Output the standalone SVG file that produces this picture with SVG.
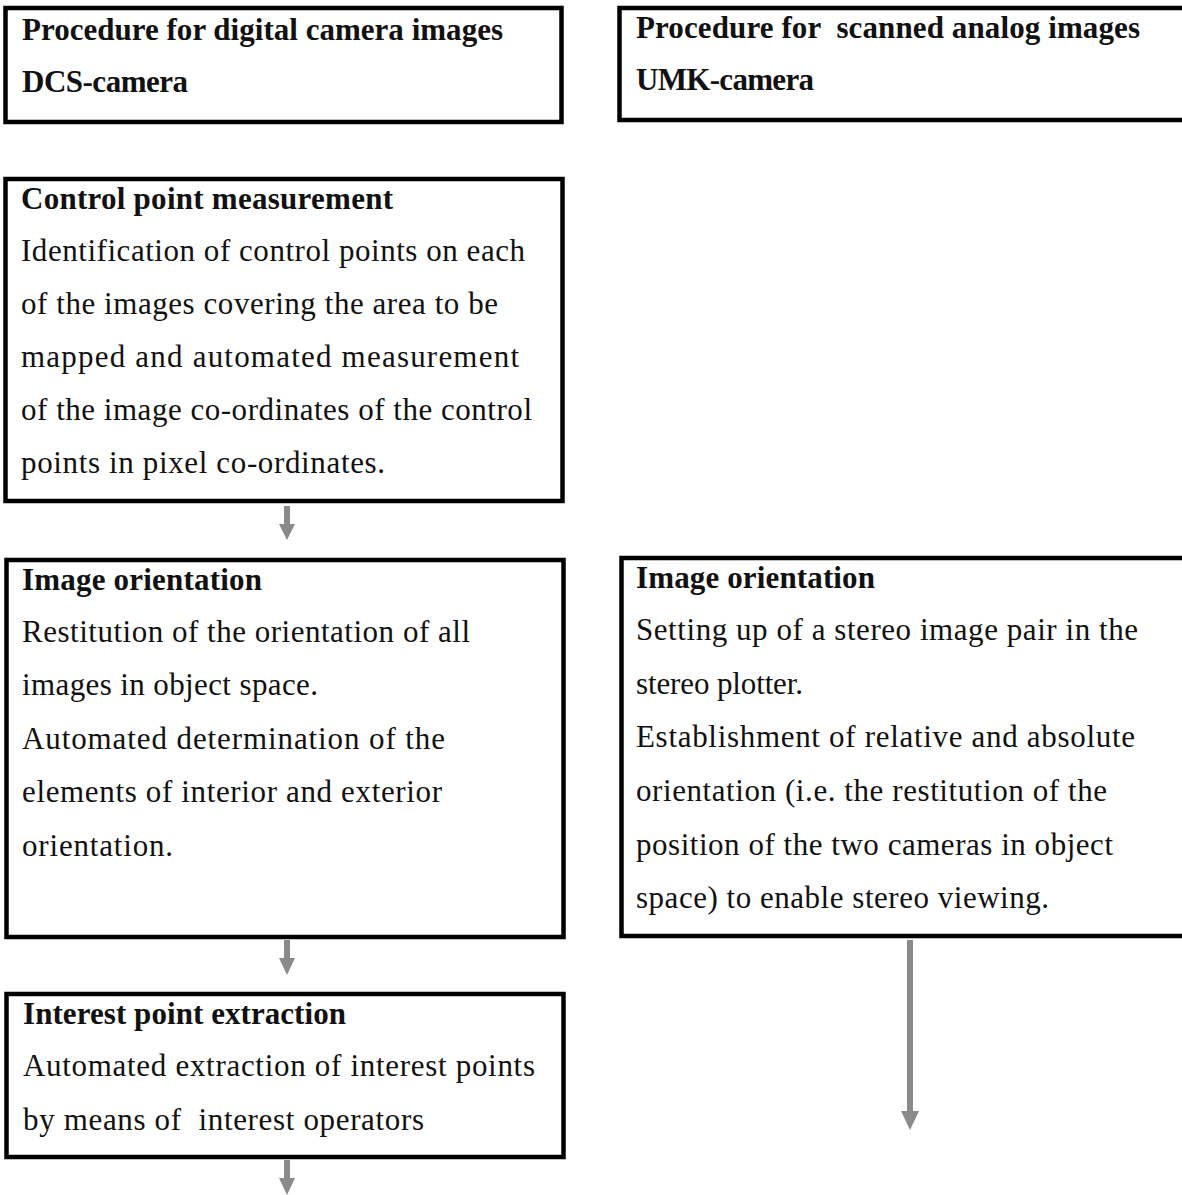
<svg xmlns="http://www.w3.org/2000/svg" width="1182" height="1195" viewBox="0 0 1182 1195">
<style>
.box{fill:#fff;stroke:#000;stroke-width:4.5}
text{font-family:"Liberation Serif","DejaVu Serif",serif;font-size:31px;fill:#111;white-space:pre}
.b{font-weight:bold}
.shaft{stroke:#8a8a8a;fill:none}
.head{fill:#8a8a8a}
</style>
<rect width="1182" height="1195" fill="#fff"/>
<g id="connectors">
<line class="shaft" x1="287" y1="506" x2="287" y2="526" stroke-width="6"/>
<polygon class="head" points="279,524 295,524 287,540"/>
<line class="shaft" x1="287" y1="940" x2="287" y2="960" stroke-width="6"/>
<polygon class="head" points="279,958 295,958 287,975"/>
<line class="shaft" x1="287" y1="1160" x2="287" y2="1180" stroke-width="6"/>
<polygon class="head" points="279,1178 295,1178 287,1195"/>
<line class="shaft" x1="910" y1="940" x2="910" y2="1113" stroke-width="6"/>
<polygon class="head" points="901,1111 919,1111 910,1130"/>
</g>
<g id="digital-title">
<rect class="box" x="5.5" y="8" width="556" height="114"/>
<text class="b" x="22" y="40" textLength="481">Procedure for digital camera images</text>
<text class="b" x="22" y="92" textLength="166">DCS-camera</text>
</g>
<g id="analog-title">
<rect class="box" x="619.5" y="8" width="570" height="112"/>
<text class="b" x="636" y="38" textLength="504">Procedure for  scanned analog images</text>
<text class="b" x="636" y="90" textLength="178">UMK-camera</text>
</g>
<g id="control-point">
<rect class="box" x="5.5" y="179" width="557" height="322"/>
<text class="b" x="21" y="209" textLength="372">Control point measurement</text>
<text x="21" y="261" textLength="504">Identification of control points on each</text>
<text x="21" y="314" textLength="477">of the images covering the area to be</text>
<text x="21" y="367" textLength="498">mapped and automated measurement</text>
<text x="21" y="420" textLength="511">of the image co-ordinates of the control</text>
<text x="21" y="473" textLength="364">points in pixel co-ordinates.</text>
</g>
<g id="image-orientation-left">
<rect class="box" x="6.5" y="560" width="557" height="377"/>
<text class="b" x="22" y="590" textLength="240">Image orientation</text>
<text x="22" y="642" textLength="448">Restitution of the orientation of all</text>
<text x="22" y="695" textLength="296">images in object space.</text>
<text x="22" y="749" textLength="423">Automated determination of the</text>
<text x="22" y="802" textLength="420">elements of interior and exterior</text>
<text x="22" y="856" textLength="151">orientation.</text>
</g>
<g id="image-orientation-right">
<rect class="box" x="621.5" y="558" width="570" height="378"/>
<text class="b" x="636" y="588" textLength="239">Image orientation</text>
<text x="636" y="640" textLength="502">Setting up of a stereo image pair in the</text>
<text x="636" y="694" textLength="167">stereo plotter.</text>
<text x="636" y="747" textLength="499">Establishment of relative and absolute</text>
<text x="636" y="801" textLength="471">orientation (i.e. the restitution of the</text>
<text x="636" y="855" textLength="477">position of the two cameras in object</text>
<text x="636" y="908" textLength="413">space) to enable stereo viewing.</text>
</g>
<g id="interest-point">
<rect class="box" x="6.5" y="994" width="557" height="163"/>
<text class="b" x="23" y="1024" textLength="323">Interest point extraction</text>
<text x="23" y="1076" textLength="512">Automated extraction of interest points</text>
<text x="23" y="1130" textLength="401">by means of  interest operators</text>
</g>
</svg>
